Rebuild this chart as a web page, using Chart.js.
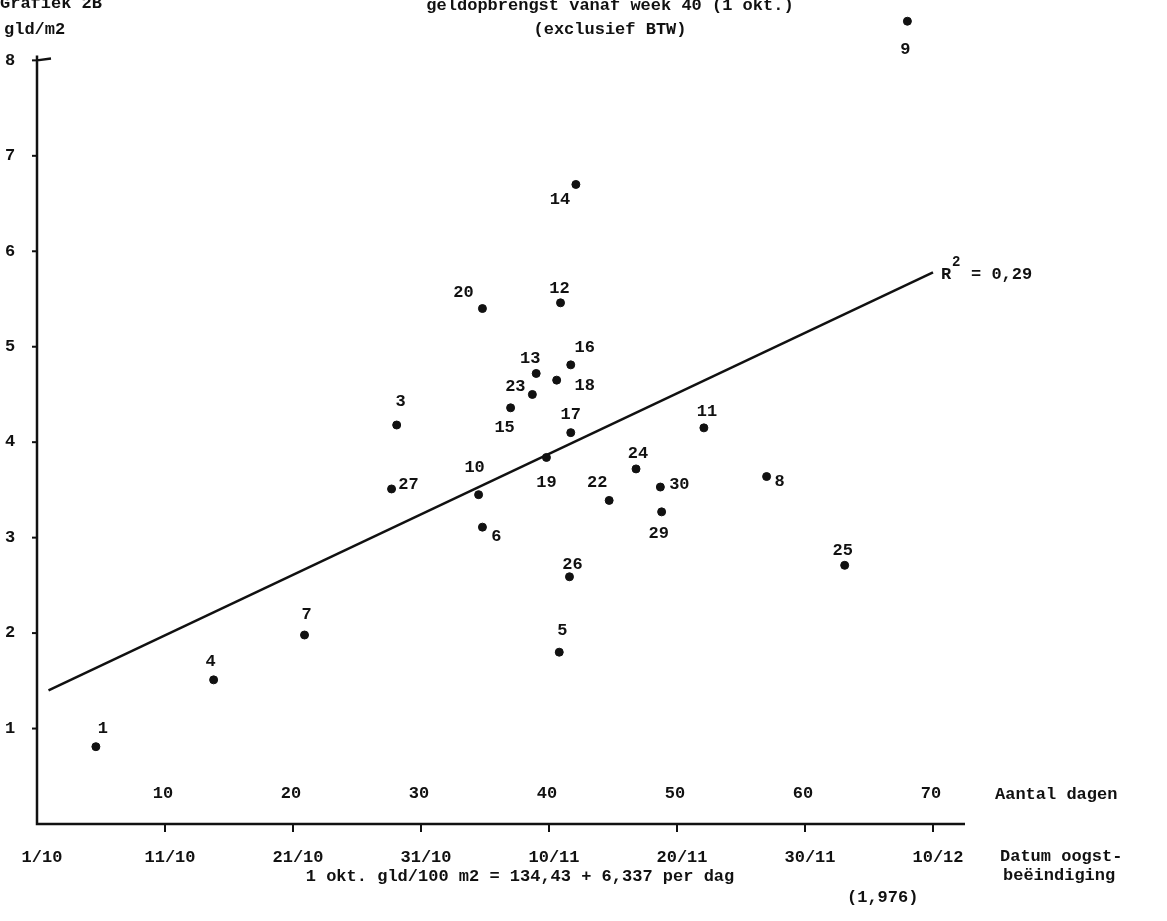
<!DOCTYPE html>
<html>
<head>
<meta charset="utf-8">
<script src="https://cdn.jsdelivr.net/npm/chart.js@4"></script>
<style>
  body { margin: 0; background: #fff; }
  #wrap { width: 1167px; height: 921px; }
</style>
</head>
<body>
<div id="wrap"><canvas id="grafiek" width="1167" height="921"></canvas></div>
<script>
// bedrijfsnummers, aantal dagen na 1 okt., opbrengst gld/m2
const bedrijven = ['1','4','7','3','27','20','10','6','15','23','13','18','16','12','14','17','19','22','24','30','29','11','8','26','5','25','9'];
const dagen     = [4.6,13.8,20.9,28.1,27.7,34.8,34.5,34.8,37.0,38.7,39.0,40.6,41.7,40.9,42.1,41.7,39.8,44.7,46.8,48.7,48.8,52.1,57.0,41.6,40.8,63.1,68.0];
const opbrengst = [0.81,1.51,1.98,4.18,3.51,5.40,3.45,3.11,4.36,4.50,4.72,4.65,4.81,5.46,6.70,4.10,3.84,3.39,3.72,3.53,3.27,4.15,3.64,2.59,1.80,2.71,8.41];
// regressielijn eindpunten
const lijnX = [0.9, 70];
const lijnY = [1.40, 5.78];
const yTicks = [1,2,3,4,5,6,7,8];
const xTicks = [10,20,30,40,50,60,70];
const datums = ['1/10','11/10','21/10','31/10','10/11','20/11','30/11','10/12'];

// plaats van de nummers t.o.v. het punt (px)
const labelPos = {
  '1':[7,-18],'4':[-3,-18],'7':[2,-20],'3':[4,-23],'27':[17,-4],'20':[-19,-16],'10':[-4,-27],
  '6':[14,10],'15':[-6,20],'23':[-17,-8],'13':[-6,-15],'18':[28,6],'16':[14,-17],'12':[-1,-14],
  '14':[-16,15],'17':[0,-18],'19':[0,25],'22':[-12,-18],'24':[2,-15],'30':[19,-2],'29':[-3,22],
  '11':[3,-16],'8':[13,5],'26':[3,-12],'5':[3,-21],'25':[-2,-15],'9':[-2,28]
};

const FONT = 'bold 17px "Liberation Mono", "DejaVu Sans Mono", monospace';

const teken = {
  id: 'teken',
  afterDraw(chart) {
    const c = chart.ctx, xs = chart.scales.x, ys = chart.scales.y;
    c.save();
    c.strokeStyle = '#111'; c.fillStyle = '#111'; c.lineWidth = 2.5;
    c.font = FONT;
    const x0 = xs.getPixelForValue(0), y0 = ys.getPixelForValue(0);
    // assen
    c.beginPath();
    c.moveTo(x0, ys.getPixelForValue(8.05)); c.lineTo(x0, y0);
    c.lineTo(xs.getPixelForValue(72.5), y0);
    c.moveTo(x0, ys.getPixelForValue(8)); c.lineTo(x0 + 14, ys.getPixelForValue(8.02));
    c.stroke();
    c.lineWidth = 2;
    c.textAlign = 'center'; c.textBaseline = 'middle';
    yTicks.forEach(v => {
      const p = ys.getPixelForValue(v);
      c.beginPath(); c.moveTo(x0 - 5, p); c.lineTo(x0, p); c.stroke();
      c.fillText(String(v), 10, p);
    });
    xTicks.forEach(v => {
      const p = xs.getPixelForValue(v);
      c.beginPath(); c.moveTo(p, y0); c.lineTo(p, y0 + 8); c.stroke();
      c.fillText(String(v), p - 2, y0 - 30);
    });
    datums.forEach((d, i) => c.fillText(d, xs.getPixelForValue(i * 10) + 5, y0 + 34));
    // nummers bij punten
    bedrijven.forEach((b, i) => {
      const o = labelPos[b] || [0, -16];
      c.fillText(b, xs.getPixelForValue(dagen[i]) + o[0], ys.getPixelForValue(opbrengst[i]) + o[1]);
    });
    // teksten
    c.textAlign = 'left';
    c.fillText('Grafiek 2B', 0, 4);
    c.fillText('gld/m2', 4, 30);
    c.fillText('Aantal dagen', 995, 795);
    c.fillText('Datum oogst-', 1000, 857);
    c.fillText('beëindiging', 1003, 876);
    c.fillText('(1,976)', 847, 898);
    const rx = xs.getPixelForValue(70) + 8, ry = ys.getPixelForValue(5.78);
    c.fillText('R', rx, ry + 2);
    c.font = 'bold 14px "Liberation Mono", monospace';
    c.fillText('2', rx + 11, ry - 10);
    c.font = FONT;
    c.fillText('= 0,29', rx + 30, ry + 2);
    c.textAlign = 'center';
    c.fillText('geldopbrengst vanaf week 40 (1 okt.)', 610, 6);
    c.fillText('(exclusief BTW)', 610, 30);
    c.fillText('1 okt. gld/100 m2 = 134,43 + 6,337 per dag', 520, 877);
    c.restore();
  }
};

new Chart(document.getElementById('grafiek'), {
  type: 'scatter',
  data: {
    datasets: [
      {
        data: dagen.map((d, i) => ({ x: d, y: opbrengst[i] })),
        backgroundColor: '#111', borderColor: '#111', pointRadius: 4, pointHoverRadius: 4
      },
      {
        type: 'line',
        data: lijnX.map((d, i) => ({ x: d, y: lijnY[i] })),
        borderColor: '#111', borderWidth: 2.5, pointRadius: 0, fill: false
      }
    ]
  },
  plugins: [teken],
  options: {
    responsive: false, animation: false,
    layout: { padding: { left: 37, top: 0, right: 202, bottom: 97 } },
    plugins: { legend: { display: false }, tooltip: { enabled: false } },
    scales: {
      x: { type: 'linear', min: 0, max: 72.5, display: false },
      y: { min: 0, max: 8.58, display: false }
    }
  }
});
</script>
</body>
</html>
